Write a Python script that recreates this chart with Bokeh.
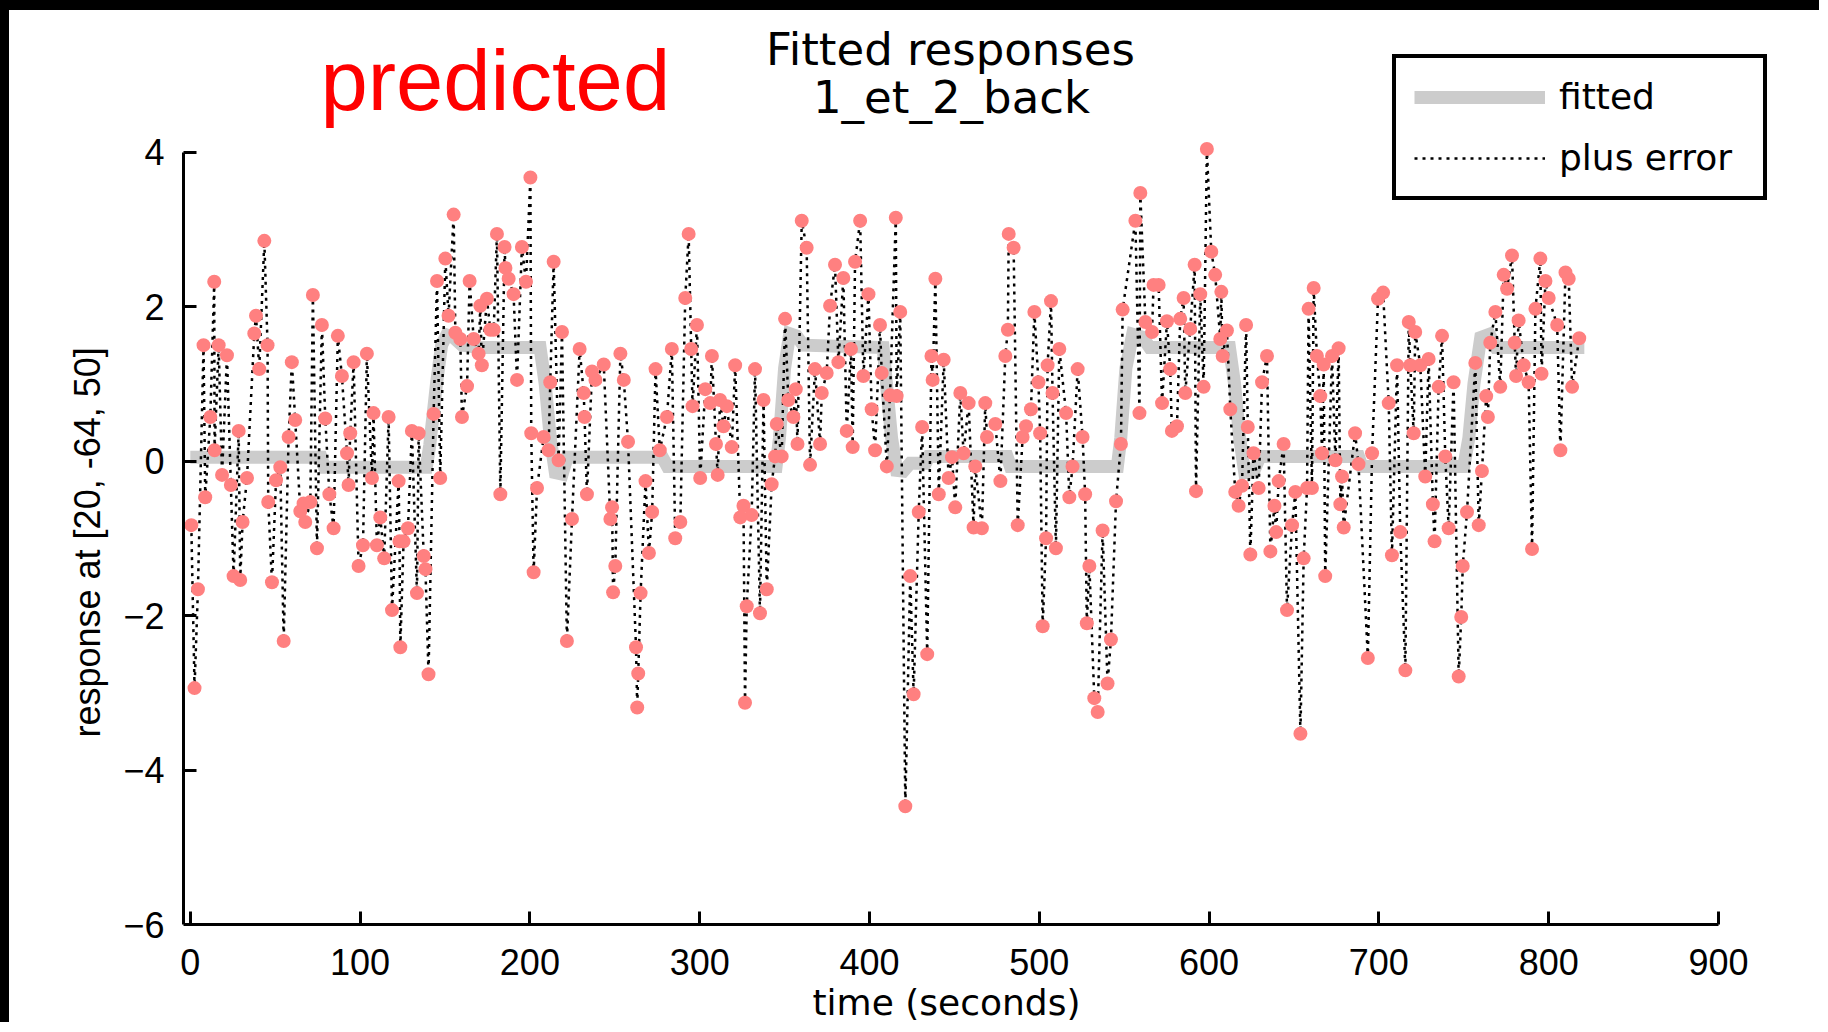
from bokeh.plotting import figure
from bokeh.models import (Range1d, Label, Legend, LegendItem, Title,
                          ColumnDataSource, FixedTicker)
from bokeh.embed import file_html
from bokeh.resources import INLINE

# ---------------- data ----------------
time_s = [
    0.6, 2.5, 4.5, 7.8, 8.8, 11.8, 14.1, 14.3, 16.7, 18.7, 21.6, 23.9, 25.5, 28.5, 29.4,
    30.8, 33.4, 37.7, 38.7, 40.6, 43.6, 45.5, 45.9, 48.1, 50.5, 53.0, 55.0, 57.9, 59.8, 61.8,
    64.8, 66.7, 67.7, 70.7, 72.2, 74.6, 77.5, 79.5, 81.9, 84.4, 86.9, 89.3, 92.3, 93.2, 94.2,
    96.2, 99.1, 101.7, 104.0, 107.0, 107.9, 109.9, 111.9, 114.2, 116.8, 118.8, 122.7, 123.2, 123.7, 125.6,
    128.2, 130.5, 133.5, 134.5,
    137.5, 138.5, 140.3, 143.3, 145.3, 147.2, 150.2, 152.1, 155.1, 156.1, 159.0, 160.0, 163.0, 164.5, 166.9,
    169.8, 170.8, 171.7, 174.7, 176.7, 178.7, 180.6, 182.6, 185.1, 185.6, 187.5, 190.4, 192.4, 195.3, 197.7,
    200.3, 200.8, 202.2, 204.2, 208.1, 211.0, 212.0, 214.0, 216.9, 218.9, 221.8, 224.8, 229.3, 231.7, 232.2,
    233.6, 236.6, 238.6, 243.5, 247.4, 248.4, 249.0, 250.3, 253.3, 255.3, 257.8, 262.5, 263.2, 263.8, 265.2,
    268.1, 270.1, 272.0, 274.0,
    276.5, 280.7, 283.6, 285.6, 288.6, 291.5, 293.5, 295.0, 295.8, 298.4, 300.3, 303.3, 306.2, 307.2, 309.6,
    310.6, 312.0, 314.0, 316.0, 318.9, 320.9, 323.9, 325.8, 326.7, 327.7, 330.6, 332.6, 335.5, 337.6, 339.5,
    342.4, 344.4, 345.4, 348.3, 350.3, 352.2, 355.2, 356.6, 357.6, 360.1, 363.0, 365.0, 367.9, 370.9, 371.9,
    374.8, 376.8, 379.7, 381.7, 384.6, 386.6, 389.1, 390.1, 391.5, 394.5, 396.4, 399.4, 401.3, 403.3, 406.2,
    407.2, 410.2, 412.1,
    415.5, 416.0, 418.1, 421.1, 424.0, 426.0, 429.0, 431.0, 434.0, 436.5, 437.2, 438.8, 440.8, 443.7, 446.6,
    448.6, 450.5, 453.5, 455.4, 458.4, 461.3, 462.3, 466.2, 468.2, 469.2, 474.1, 477.1, 480.0, 481.5, 482.0,
    484.9, 487.3, 490.2, 492.2, 495.1, 497.1, 499.5, 500.5, 502.0, 504.0, 504.9, 506.9, 507.8, 509.8, 511.8,
    515.8, 517.7, 519.6, 522.6, 525.5, 527.0, 528.0, 529.5, 532.4, 534.4, 537.3, 540.2, 542.2, 545.2, 548.1,
    549.1,
    556.6, 559.0, 559.5, 562.5, 566.4, 567.3, 570.3, 572.3, 575.2, 577.1, 578.1, 581.1, 583.0, 585.0, 586.0,
    588.9, 591.5, 592.3, 594.8, 596.8, 598.7, 601.3, 603.6, 606.6, 607.2, 608.0, 610.5, 612.5, 615.4, 617.4,
    619.4, 621.8, 622.8, 624.3, 626.2, 629.2, 631.2, 634.1, 636.1, 638.5, 639.5, 641.0, 643.9, 645.9, 648.9,
    650.8, 653.8, 655.7, 657.7, 658.6, 660.6, 661.6, 663.5, 665.5, 666.5, 667.5, 668.4, 672.4, 674.4, 676.3,
    677.3, 678.3, 679.3, 686.0, 688.0, 693.5,
    696.0, 699.5, 702.5, 705.8, 707.7, 710.7, 712.6, 715.6, 717.6, 718.5, 720.5, 721.4, 724.4, 727.3, 729.3,
    731.8, 732.8, 735.2, 737.2, 739.1, 741.1, 744.0, 747.0, 748.5, 749.4, 751.9, 756.8, 758.8, 760.7, 763.2,
    764.2, 765.6, 768.6, 771.5, 773.5, 775.5, 778.4, 780.0, 780.8, 782.3, 785.3, 788.2, 790.2, 792.2, 795.1,
    795.8, 798.1, 800.0, 805.0, 806.9, 809.9, 811.8, 813.8, 818.0,
]
response = [
    -0.83, -2.94, -1.66, 1.50, -0.47, 0.57, 2.32, 0.14, 1.50, -0.18, 1.37, -0.31, -1.49, 0.39, -1.54,
    -0.79, -0.22, 1.65, 1.88, 1.19, 2.85, 1.50, -0.53, -1.57, -0.25, -0.08, -2.33, 0.31, 1.28, 0.53,
    -0.65, -0.55, -0.79, -0.53, 2.15, -1.13, 1.76, 0.55, -0.43, -0.87, 1.62, 1.10, 0.10, -0.31, 0.36,
    1.28, -1.36, -1.09, 1.39, -0.22, 0.62, -1.09, -0.73, -1.26, 0.57, -1.93, -0.26, -1.04, -2.41, -1.04,
    -0.87, 0.39, -1.71, 0.36,
    -1.23, -1.40, -2.76, 0.61, 2.33, -0.22, 2.62, 1.88, 3.19, 1.66, 1.58, 0.57, 0.97, 2.33, 1.58,
    1.39, 2.01, 1.24, 2.10, 1.70, 1.70, 2.94, -0.43, 2.77, 2.50, 2.36, 2.16, 1.05, 2.77, 2.32,
    3.67, 0.36, -1.44, -0.35, 0.31, 0.14, 1.02, 2.58, 0.01, 1.67, -2.33, -0.75, 1.45, 0.88, 0.57,
    -0.43, 1.16, 1.05, 1.25, -0.75, -0.60, -1.70, -1.36, 1.39, 1.05, 0.25, -2.41, -3.19, -2.75, -1.71,
    -0.26, -1.19, -0.66, 1.19,
    0.14, 0.57, 1.45, -1.00, -0.79, 2.11, 2.94, 1.45, 0.71, 1.76, -0.22, 0.93, 0.75, 1.36, 0.22,
    -0.18, 0.79, 0.45, 0.71, 0.18, 1.24, -0.73, -0.58, -3.13, -1.88, -0.70, 1.19, -1.97, 0.79, -1.66,
    -0.30, 0.06, 0.48, 0.06, 1.84, 0.79, 0.57, 0.93, 0.22, 3.11, 2.76, -0.05, 1.19, 0.22, 0.88,
    1.14, 2.01, 2.54, 1.28, 2.37, 0.39, 1.45, 0.18, 2.58, 3.11, 1.10, 2.16, 0.67, 0.14, 1.76,
    1.14, -0.07, 0.85,
    3.15, 0.84, 1.93, -4.47, -1.49, -3.02, -0.66, 0.44, -2.50, 1.36, 1.05, 2.36, -0.43, 1.31, -0.22,
    0.05, -0.60, 0.88, 0.10, 0.75, -0.86, -0.07, -0.87, 0.75, 0.31, 0.48, -0.26, 1.36, 1.70, 2.94,
    2.76, -0.83, 0.31, 0.45, 0.67, 1.93, 1.02, 0.36, -2.14, -1.00, 1.24, 2.07, 0.88, -1.13, 1.45,
    0.62, -0.47, -0.07, 1.19, 0.31, -0.43, -2.10, -1.36, -3.07, -3.25, -0.90, -2.88, -2.31, -0.52, 0.22,
    1.96,
    3.11, 0.62, 3.47, 1.80, 1.67, 2.28, 2.28, 0.75, 1.81, 1.19, 0.39, 0.45, 1.84, 2.11, 0.88,
    1.71, 2.54, -0.39, 2.16, 0.96, 4.04, 2.71, 2.41, 1.58, 2.19, 1.36, 1.69, 0.67, -0.40, -0.58,
    -0.32, 1.76, 0.44, -1.21, 0.10, -0.35, 1.02, 1.36, -1.17, -0.58, -0.92, -0.26, 0.22, -1.93, -0.83,
    -0.40, -3.53, -1.26, -0.35, 1.97, -0.35, 2.24, 1.36, 0.84, 0.10, 1.25, -1.49, 1.36, 0.01, 1.46,
    -0.56, -0.20, -0.86, 0.36, -0.04, -2.55,
    0.10, 2.10, 2.18, 0.75, -1.22, 1.24, -0.92, -2.71, 1.80, 1.24, 0.36, 1.67, 1.24, -0.20, 1.32,
    -0.56, -1.04, 0.96, 1.62, 0.06, -0.87, 1.02, -2.79, -2.02, -1.36, -0.66, 1.27, -0.83, -0.13, 0.84,
    0.57, 1.53, 1.93, 0.96, 2.41, 2.23, 2.66, 1.53, 1.10, 1.82, 1.24, 1.02, -1.14, 1.97, 2.62,
    1.13, 2.33, 2.11, 1.76, 0.14, 2.44, 2.36, 0.96, 1.59,
]

fit_time = [0, 77, 79, 139, 141, 145, 148, 151, 155, 160, 170, 206, 209, 212, 215, 219, 222, 278,
            281, 345, 347, 350, 353, 357, 361, 408, 410, 413, 416, 420, 424, 433, 435, 481, 483,
            546, 548, 551, 555, 561, 565, 612, 615, 618, 621, 626, 630, 688, 690, 750, 753, 756,
            760, 765, 769, 821]
fit_value = [0.05, 0.05, -0.08, -0.08, 0.2, 1.0, 1.5, 1.63, 1.6, 1.5, 1.47, 1.47, 1.0, 0.3, -0.15,
             -0.17, 0.05, 0.05, -0.07, -0.07, 0.3, 1.2, 1.65, 1.62, 1.5, 1.47, 1.0, 0.3, -0.12,
             -0.13, -0.03, -0.03, 0.06, 0.06, -0.07, -0.07, 0.3, 1.2, 1.64, 1.6, 1.47, 1.47, 1.0,
             0.3, -0.15, -0.15, 0.06, 0.06, -0.07, -0.07, 0.3, 1.0, 1.6, 1.64, 1.47, 1.47]

x_ticks = [0, 100, 200, 300, 400, 500, 600, 700, 800, 900]
y_ticks = [-6, -4, -2, 0, 2, 4]

title_lines = ["Fitted responses", "1_et_2_back"]
x_label = "time (seconds)"
y_label = "response at [20, -64, 50]"
legend_labels = ["fitted", "plus error"]

# ---------------- figure ----------------
W, H = 1828, 1032
TOP_BAR, LEFT_BAR = 10, 9
PW, PH = W - LEFT_BAR, H - TOP_BAR

p = figure(width=PW, height=PH, output_backend="svg", toolbar_location=None,
           x_range=Range1d(-4, 964.8), y_range=Range1d(-6, 5.832),
           min_border_left=174, min_border_right=0, min_border_top=0,
           min_border_bottom=108)
# black edges of the picture (top and left), drawn as the figure's own CSS border
p.styles = {"border-left": f"{LEFT_BAR}px solid black",
            "border-top": f"{TOP_BAR}px solid black"}
p.xgrid.visible = False
p.ygrid.visible = False
p.outline_line_color = None
p.background_fill_color = "white"
p.border_fill_color = "white"

fit_src = ColumnDataSource(dict(t=fit_time, v=fit_value))
dat_src = ColumnDataSource(dict(t=time_s, v=response))

r_fit = p.line("t", "v", source=fit_src, line_color="#cccccc", line_width=13,
               line_join="miter")
r_err = p.line("t", "v", source=dat_src, line_color="black", line_width=2.5,
               line_dash="3 5")
p.scatter("t", "v", source=dat_src, marker="circle", size=14,
          fill_color="#ff8080", line_color=None)

for ax in (p.xaxis[0], p.yaxis[0]):
    ax.axis_line_width = 3
    ax.axis_line_color = "black"
    ax.major_tick_line_width = 3
    ax.major_tick_line_color = "black"
    ax.major_tick_in = 13
    ax.major_tick_out = 0
    ax.minor_tick_line_color = None
    ax.major_label_text_font = "Liberation Sans"
    ax.major_label_text_font_size = "36px"
    ax.major_label_text_color = "black"

p.xaxis[0].ticker = FixedTicker(ticks=x_ticks)
p.yaxis[0].ticker = FixedTicker(ticks=y_ticks)
p.xaxis[0].bounds = (x_ticks[0], x_ticks[-1])
p.yaxis[0].bounds = (y_ticks[0], y_ticks[-1])
p.xaxis[0].major_label_standoff = 24
p.yaxis[0].major_label_standoff = 19

# axis titles as side titles (so they sit centred under / beside the axes)
p.add_layout(Title(text=y_label, align="left", offset=187, standoff=26,
                   text_font="Liberation Sans", text_font_size="36px",
                   text_font_style="normal", text_color="black"), "left")
p.add_layout(Title(text=x_label, align="left", offset=629, standoff=4,
                   text_font="DejaVu Sans", text_font_size="36px",
                   text_font_style="normal", text_color="black"), "below")

# texts above the axes (screen units relative to the plot frame, origin bottom-left)
p.add_layout(Label(x=767, y=875, x_units="screen", y_units="screen", text=title_lines[0],
                   text_align="center", text_baseline="alphabetic",
                   text_font="DejaVu Sans", text_font_size="45px", text_color="black"))
p.add_layout(Label(x=768, y=827, x_units="screen", y_units="screen", text=title_lines[1],
                   text_align="center", text_baseline="alphabetic",
                   text_font="DejaVu Sans", text_font_size="45px", text_color="black"))
p.add_layout(Label(x=137, y=844, x_units="screen", y_units="screen", text="predicted",
                   text_align="left", text_baseline="alphabetic",
                   text_font="Liberation Sans", text_font_size="85px", text_color="#ff0000"))

legend = Legend(items=[LegendItem(label=legend_labels[0], renderers=[r_fit]),
                       LegendItem(label=legend_labels[1], renderers=[r_err])],
                location=(1209, 724), orientation="vertical",
                glyph_width=131, glyph_height=40, label_height=40, label_width=186,
                label_standoff=14, padding=18, spacing=20, margin=0,
                border_line_color="black", border_line_width=4, border_line_alpha=1.0,
                background_fill_color="white", background_fill_alpha=1.0,
                label_text_font="DejaVu Sans", label_text_font_size="36px",
                label_text_color="black")
p.add_layout(legend, "center")

open("out.html", "w").write(file_html(p, INLINE))
